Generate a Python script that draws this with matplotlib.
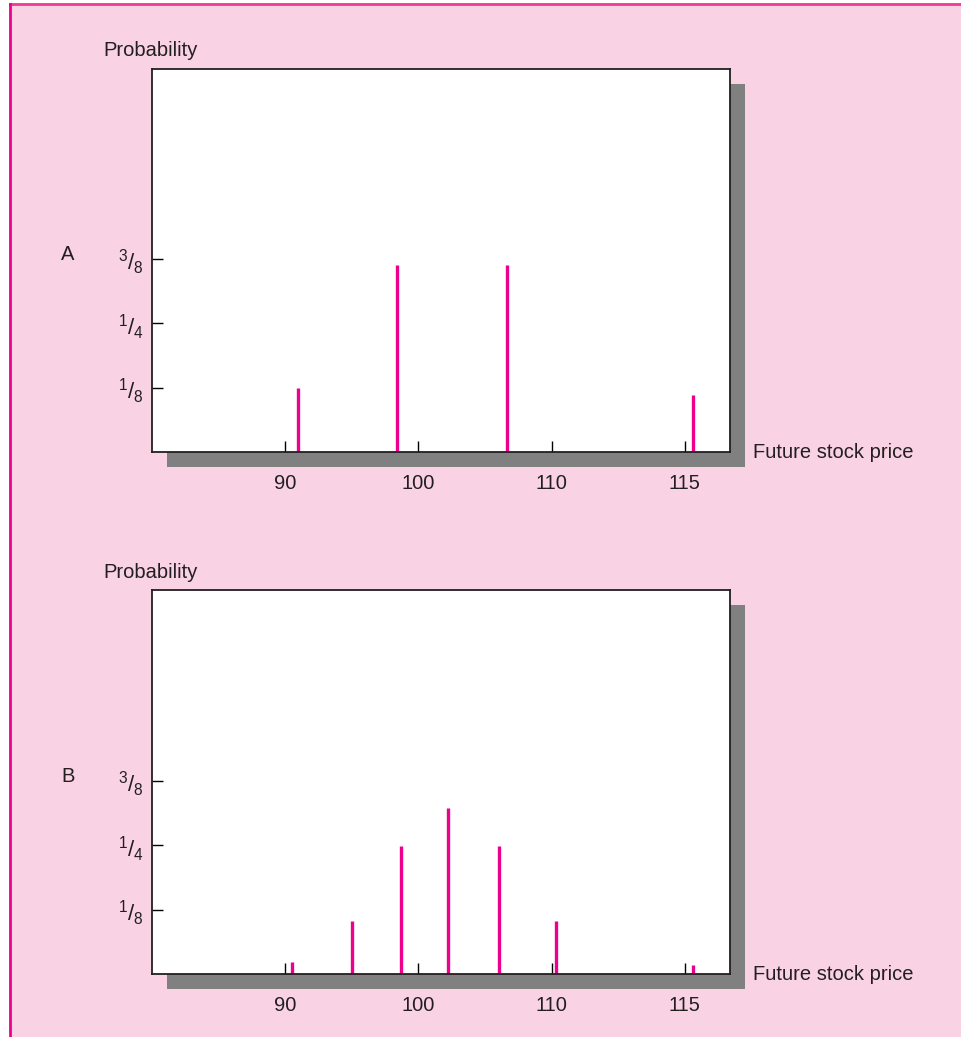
import matplotlib.pyplot as plt
from matplotlib.patches import Rectangle
from matplotlib.lines import Line2D

plt.rcParams['font.family'] = ['Liberation Sans', 'DejaVu Sans']
plt.rcParams['mathtext.fontset'] = 'custom'
plt.rcParams['mathtext.rm'] = 'Liberation Sans'
plt.rcParams['mathtext.it'] = 'Liberation Sans'

# -------------------------------------------------
#  Data (x positions on the drawn axis; "115" sits where 120 would be)
# -------------------------------------------------
tick_pos = [90, 100, 110, 120]
tick_labels = ['90', '100', '110', '115']
prob_ticks = [1/8, 2/8, 3/8]
prob_labels = [r'$^{1}/_{8}$', r'$^{1}/_{4}$', r'$^{3}/_{8}$']

price_a = [91.0, 98.4, 106.65, 120.6]
prob_a = [0.125, 0.364, 0.364, 0.110]

price_b = [90.5, 95.0, 98.7, 102.2, 106.05, 110.3, 120.6]
prob_b = [0.023, 0.103, 0.249, 0.322, 0.249, 0.103, 0.017]

PINK = '#F9D3E4'
MAGENTA = '#EC008C'
GREY = '#808080'
INK = '#231F20'
W, H = 962, 1037

fig = plt.figure(figsize=(W / 100, H / 100), dpi=100, facecolor='white')

# pink page with magenta border on top/left
fig.patches.append(Rectangle((10 / W, 0), 1, 1 - 4 / H, transform=fig.transFigure,
                             facecolor=PINK, edgecolor='none', zorder=-5))
fig.lines.append(Line2D([10 / W, 1], [1 - 4 / H, 1 - 4 / H], transform=fig.transFigure,
                        color='#EE3A97', lw=2, zorder=-4))
fig.lines.append(Line2D([10 / W, 10 / W], [0, 1 - 4 / H], transform=fig.transFigure,
                        color=MAGENTA, lw=2, zorder=-4))


def panel(top_px, bottom_px, prices, probs, letter):
    left, right = 152, 730
    rect = [left / W, 1 - bottom_px / H, (right - left) / W, (bottom_px - top_px) / H]
    # drop shadow
    fig.patches.append(Rectangle((rect[0] + 15 / W, rect[1] - 15 / H), rect[2], rect[3],
                                 transform=fig.transFigure, facecolor=GREY,
                                 edgecolor='none', zorder=-1))
    ax = fig.add_axes(rect)
    ax.set_facecolor('white')
    ax.vlines(prices, 0, probs, color=MAGENTA, lw=2.4)

    span = (bottom_px - top_px) / 64.3 / 8
    ax.set_ylim(0, span)
    ax.set_xlim(90 - 133 / 13.33, 90 + 445 / 13.33)

    ax.set_xticks(tick_pos)
    ax.set_xticklabels(tick_labels, fontsize=14.5, color=INK)
    ax.set_yticks(prob_ticks)
    ax.set_yticklabels(prob_labels, fontsize=16, color=INK)
    ax.tick_params(axis='x', direction='in', length=8, width=1, pad=16)
    ax.tick_params(axis='y', direction='in', length=8, width=1, pad=6)
    for s in ax.spines.values():
        s.set_linewidth(1.3)
        s.set_color(INK)

    ax.text(-0.084, 1.0 + 18 / (bottom_px - top_px), 'Probability', transform=ax.transAxes,
            fontsize=14.5, ha='left', va='center', color=INK)
    ax.text(1.04, 0.0, 'Future stock price', transform=ax.transAxes,
            fontsize=14.5, ha='left', va='center', color=INK)
    ax.text(-0.157, 3/8 + 0.008, letter, transform=ax.get_yaxis_transform(),
            fontsize=14.5, ha='left', va='center', color=INK)
    return ax


panel(69, 452, price_a, prob_a, 'A')
panel(590, 974, price_b, prob_b, 'B')

plt.savefig('out.png', dpi=100, facecolor='white')
